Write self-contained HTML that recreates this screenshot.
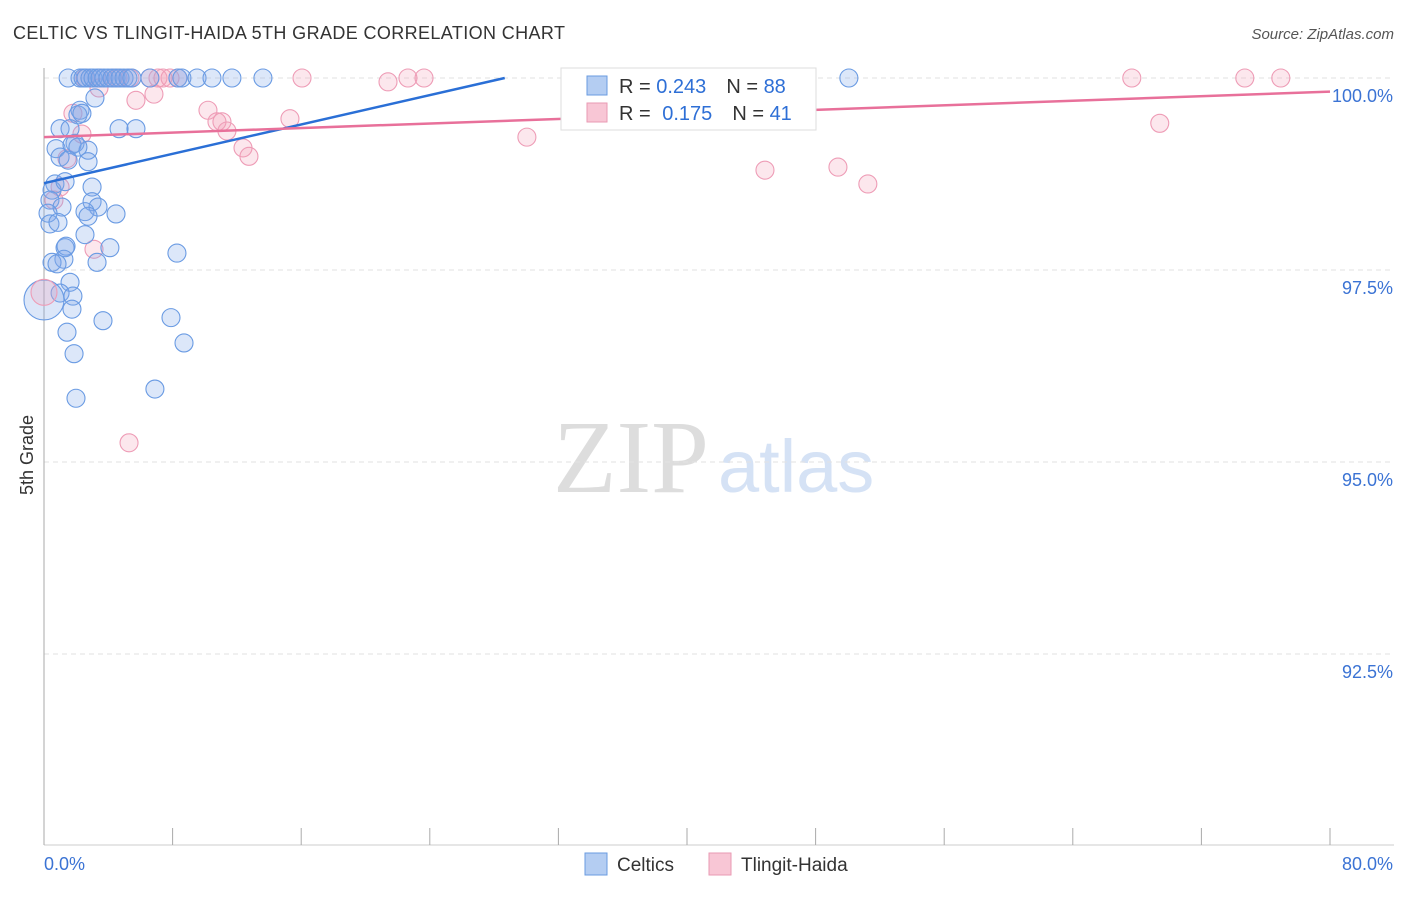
<!DOCTYPE html>
<html><head><meta charset="utf-8"><style>
body{margin:0;background:#fff;font-family:"Liberation Sans",sans-serif}
</style></head><body>
<svg id="c" width="1406" height="892" xmlns="http://www.w3.org/2000/svg">
<text x="13" y="39" font-size="18" fill="#333" textLength="552">CELTIC VS TLINGIT-HAIDA 5TH GRADE CORRELATION CHART</text>
<text x="1394" y="39" font-size="15" fill="#555" font-style="italic" text-anchor="end">Source: ZipAtlas.com</text>
<text x="553" y="492" font-size="104" fill="#ddd" font-family="Liberation Serif,serif">ZIP</text>
<text x="718" y="492" font-size="74" fill="#d5e2f5">atlas</text>
<text transform="translate(33,455) rotate(-90)" font-size="18" fill="#333" text-anchor="middle">5th Grade</text>
<g id="grid"></g><g id="pts"></g><g id="lines"></g>
<g>
<rect x="561" y="68" width="255" height="62" fill="#fff" stroke="#ddd"/>
<rect x="587" y="76" width="20" height="19" fill="#b4cdf2" stroke="#6a9be0"/>
<rect x="587" y="103" width="20" height="19" fill="#f8c6d5" stroke="#e99ab3"/>
<text x="619" y="93" font-size="20" fill="#333">R = <tspan fill="#2e6fd6">0.243</tspan><tspan dx="20">N = </tspan><tspan fill="#2e6fd6">88</tspan></text>
<text x="619" y="120" font-size="20" fill="#333">R = <tspan fill="#2e6fd6" dx="6">0.175</tspan><tspan dx="20">N = </tspan><tspan fill="#2e6fd6">41</tspan></text>
</g>
<g>
<rect x="585" y="853" width="22" height="22" fill="#b4cdf2" stroke="#6a9be0"/>
<text x="617" y="871" font-size="19" fill="#333">Celtics</text>
<rect x="709" y="853" width="22" height="22" fill="#f8c6d5" stroke="#e99ab3"/>
<text x="741" y="871" font-size="19" fill="#333">Tlingit-Haida</text>
</g>
</svg>
<script>
const xTicks=[0,10,20,30,40,50,60,70,80];
const yTicks=[100,97.5,95,92.5];
const blueX=[1.5,2.24,2.43,2.61,2.86,3.05,3.3,3.48,3.73,3.98,4.23,4.48,4.73,4.98,5.22,5.47,6.59,8.33,8.58,9.52,10.45,11.69,13.62,50.07,3.17,2.24,2.11,2.36,1.0,1.62,4.67,5.72,0.75,1.93,1.74,2.74,2.11,1.0,1.5,2.74,0.68,0.5,1.31,2.99,0.37,2.99,3.36,1.12,0.25,2.55,4.48,2.74,0.37,0.87,2.55,1.31,1.37,4.1,1.24,8.27,0.5,0.81,3.3,1.62,1.0,1.8,1.74,1.43,3.67,7.9,8.71,1.87,6.9,1.99];
const blueY=[100,100,100,100,100,100,100,100,100,100,100,100,100,100,100,100,100,100,100,100,100,100,100,100,99.74,99.58,99.52,99.54,99.34,99.34,99.34,99.34,99.08,99.15,99.13,99.06,99.1,98.97,98.93,98.91,98.62,98.54,98.65,98.58,98.41,98.39,98.32,98.32,98.24,98.26,98.23,98.2,98.1,98.12,97.96,97.79,97.81,97.79,97.64,97.72,97.6,97.58,97.6,97.34,97.2,97.16,96.99,96.69,96.84,96.88,96.55,96.41,95.95,95.83];
const pinkX=[2.55,3.48,4.29,4.6,5.35,6.59,7.09,7.4,7.84,8.33,16.05,21.4,22.64,23.64,34.83,36.51,67.67,74.7,76.94,3.42,6.84,5.72,1.8,10.2,10.76,11.07,11.38,15.3,2.36,69.41,30.04,12.38,12.75,1.43,44.85,49.39,51.25,1.0,0.62,3.11,5.29];
const pinkY=[100,100,100,100,100,100,100,100,100,100,100,99.95,100,100,100,100,100,100,100,99.87,99.79,99.71,99.54,99.58,99.43,99.43,99.31,99.47,99.27,99.41,99.23,99.09,98.98,98.95,98.8,98.84,98.62,98.58,98.41,97.77,95.25];
const bigBlue=[0,97.11], bigPink=[0,97.21];
const blueFit=[98.63,0.0478], pinkFit=[99.23,0.0074];
const X=v=>44+v/80*1286, Y=v=>78+(100-v)*192/2.5;
const NS='http://www.w3.org/2000/svg';
function mk(t,a,p){const e=document.createElementNS(NS,t);for(const k in a)e.setAttribute(k,a[k]);p.appendChild(e);return e;}
const g=document.getElementById('grid'),P=document.getElementById('pts'),L=document.getElementById('lines');
yTicks.forEach(t=>{const l=mk('line',{x1:44,x2:1394,y1:Y(t),y2:Y(t),stroke:'#e2e2e2','stroke-dasharray':'5,4'},g);


const tx=mk('text',{x:1393,y:Y(t)+24,'font-size':18,fill:'#3b73d4','text-anchor':'end'},g);tx.textContent=t.toFixed(1)+'%';

});
mk('line',{x1:44,x2:44,y1:68,y2:845,stroke:'#aaa'},g);
mk('line',{x1:44,x2:1394,y1:845,y2:845,stroke:'#ccc'},g);
for(let i=0;i<=10;i++){const x=X(i*8);mk('line',{x1:x,x2:x,y1:828,y2:845,stroke:'#aaa'},g);}
const x0=mk('text',{x:44,y:870,'font-size':18,fill:'#3b73d4'},g);x0.textContent=xTicks[0].toFixed(1)+'%';


const x1=mk('text',{x:1393,y:870,'font-size':18,fill:'#3b73d4','text-anchor':'end'},g);x1.textContent=xTicks[xTicks.length-1].toFixed(1)+'%';


function dot(x,y,r,c){const col=c?['rgba(130,170,235,0.28)','#6a9be3']:['rgba(242,160,185,0.25)','#ee9cb6'];
const d=mk('circle',{cx:X(x),cy:Y(y),r:r,fill:col[0],stroke:col[1],'stroke-width':1.1},P);

}
pinkX.forEach((x,i)=>dot(x,pinkY[i],9,false));
blueX.forEach((x,i)=>dot(x,blueY[i],9,true));
dot(bigBlue[0],bigBlue[1],20,true);dot(bigPink[0],bigPink[1],13,false);
const bxEnd=(100-blueFit[0])/blueFit[1];
const bl=mk('line',{x1:X(0),y1:Y(blueFit[0]),x2:X(bxEnd),y2:Y(100),stroke:'#2a6fd6','stroke-width':2.5},L);


const pl=mk('line',{x1:X(0),y1:Y(pinkFit[0]),x2:X(80),y2:Y(pinkFit[0]+pinkFit[1]*80),stroke:'#e8709a','stroke-width':2.5},L);


</script>
</body></html>
